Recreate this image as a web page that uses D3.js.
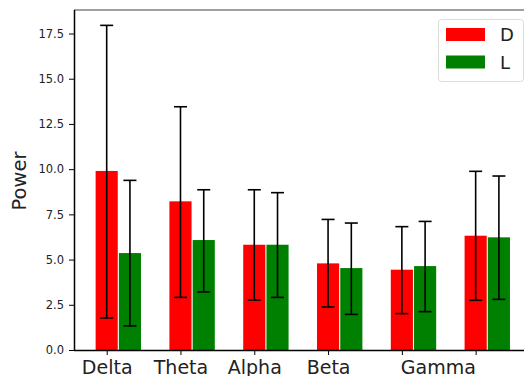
<!DOCTYPE html>
<html>
<head>
<meta charset="utf-8">
<script src="https://cdn.jsdelivr.net/npm/d3@7"></script>
<style>
  html, body { margin: 0; padding: 0; background: #fff; }
  svg { display: block; font-family: "DejaVu Sans", sans-serif; }
</style>
</head>
<body>
<svg id="chart" width="524" height="376"></svg>
<script>
// ---- data ----
const tickLabels = ["Delta", "Theta", "Alpha", "Beta", "Gamma", ""];
const seriesNames = ["D", "L"];
const seriesColors = ["#ff0000", "#008000"];
const dMean  = [9.90, 8.22, 5.82, 4.79, 4.44, 6.32];
const dUpper = [17.95, 13.45, 8.86, 7.22, 6.82, 9.88];
const dLower = [1.77, 2.91, 2.76, 2.38, 2.01, 2.75];
const lMean  = [5.36, 6.08, 5.82, 4.53, 4.64, 6.23];
const lUpper = [9.38, 8.86, 8.70, 7.02, 7.11, 9.62];
const lLower = [1.33, 3.21, 2.91, 1.97, 2.12, 2.80];
const yTicks = [0, 2.5, 5, 7.5, 10, 12.5, 15, 17.5];

const svg = d3.select("#chart");
const pLeft = 74, pRight = 531, pTop = 10, pBottom = 350;
const barW = 0.3, offset = 0.315;

const x = d3.scaleLinear().domain([-0.443, 5.75]).range([pLeft, pRight]);
const y = d3.scaleLinear().domain([0, 18.8]).range([pBottom, pTop]);

const series = [
  { name: seriesNames[0], color: seriesColors[0], mean: dMean, up: dUpper, lo: dLower, off: 0 },
  { name: seriesNames[1], color: seriesColors[1], mean: lMean, up: lUpper, lo: lLower, off: offset }
];

// bars
series.forEach(s => {
  const g = svg.append("g");
  g.selectAll("rect").data(s.mean).enter().append("rect")
    .attr("x", (d, i) => x(i + s.off - barW / 2))
    .attr("width", (d, i) => x(i + s.off + barW / 2) - x(i + s.off - barW / 2))
    .attr("y", d => y(d))
    .attr("height", d => y(0) - y(d))
    .attr("fill", s.color);
});

// error bars
series.forEach(s => {
  const g = svg.append("g").attr("stroke", "#000").attr("stroke-width", 1.6);
  s.mean.forEach((m, i) => {
    const cx = x(i + s.off);
    g.append("line").attr("x1", cx).attr("x2", cx).attr("y1", y(s.lo[i])).attr("y2", y(s.up[i]));
    [s.lo[i], s.up[i]].forEach(v => {
      g.append("line").attr("x1", cx - 6.5).attr("x2", cx + 6.5).attr("y1", y(v)).attr("y2", y(v));
    });
  });
});

// top spine
svg.append("line").attr("x1", pLeft).attr("x2", pRight).attr("y1", pTop).attr("y2", pTop)
  .attr("stroke", "#808080").attr("stroke-width", 1.5);

// y axis
const yAxis = svg.append("g").attr("transform", `translate(${pLeft},0)`)
  .call(d3.axisLeft(y).tickValues(yTicks).tickFormat(d3.format(".1f")).tickSize(5).tickPadding(5));
yAxis.select(".domain").attr("stroke", "#000").attr("stroke-width", 1.5).attr("d", `M0.5,${pBottom}V${pTop}`);
yAxis.selectAll(".tick line").attr("stroke", "#000");
yAxis.selectAll(".tick text").attr("font-size", "11.5px").attr("fill", "#222").attr("font-family", "DejaVu Sans");

// x axis
const xAxis = svg.append("g").attr("transform", `translate(0,${pBottom})`)
  .call(d3.axisBottom(x).tickValues(d3.range(tickLabels.length)).tickFormat((d, i) => tickLabels[i]).tickSize(5).tickPadding(5.5));
xAxis.select(".domain").attr("stroke", "#000").attr("stroke-width", 1.6).attr("d", `M${pLeft},0.5H${pRight}`);
xAxis.selectAll(".tick line").attr("stroke", "#000");
xAxis.selectAll(".tick text").attr("font-size", "19px").attr("fill", "#222").attr("font-family", "DejaVu Sans");
xAxis.selectAll(".tick text").filter((d, i) => i === 4).attr("text-anchor", "start").attr("dx", -1.5);

// y label
svg.append("text")
  .attr("transform", `translate(26,181) rotate(-90)`)
  .attr("text-anchor", "middle")
  .attr("font-size", "19.5px").attr("fill", "#222")
  .text("Power");

// legend
const lg = svg.append("g");
lg.append("rect").attr("x", 438.5).attr("y", 19.5).attr("width", 85).attr("height", 62)
  .attr("rx", 3).attr("fill", "#fff").attr("fill-opacity", 0.8).attr("stroke", "#dcdcdc");
series.forEach((s, i) => {
  const yy = 28 + i * 27.5;
  lg.append("rect").attr("x", 446).attr("y", yy).attr("width", 39).attr("height", 13).attr("fill", s.color);
  lg.append("text").attr("x", 500).attr("y", yy + 13).attr("font-size", "18px").attr("fill", "#222").text(s.name);
});
</script>
</body>
</html>
